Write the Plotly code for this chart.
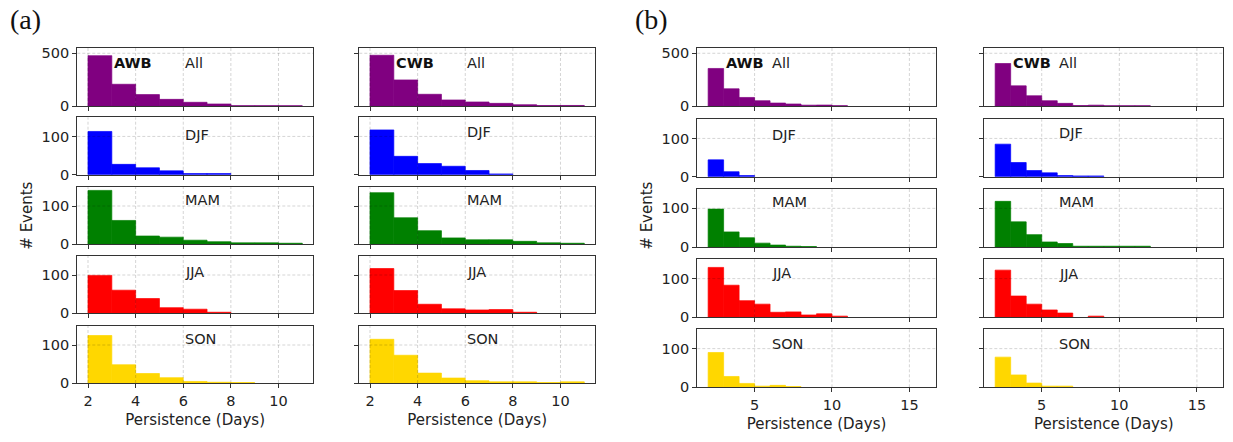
import plotly.graph_objects as go

# Bin left edges (bin width = 1 day)
edges_a = list(range(2, 11))
edges_b = list(range(2, 16))

seasons = ["All", "DJF", "MAM", "JJA", "SON"]
season_colors = ["#800080", "#0000ff", "#008000", "#ff0000", "#ffd700"]

# (a) AWB event counts per persistence bin
a_awb_all = [477, 206, 108, 63, 35, 19, 3, 3, 2]
a_awb_djf = [113, 27, 18, 10, 3, 3, 0, 0, 0]
a_awb_mam = [141, 62, 21, 18, 10, 6, 3, 3, 2]
a_awb_jja = [99, 60, 38, 14, 10, 2, 0, 0, 0]
a_awb_son = [125, 48, 25, 14, 4, 2, 1, 0, 0]

# (a) CWB
a_cwb_all = [481, 247, 111, 57, 38, 25, 12, 4, 5]
a_cwb_djf = [117, 48, 29, 22, 11, 2, 0, 0, 0]
a_cwb_mam = [135, 69, 35, 16, 11, 11, 7, 3, 2]
a_cwb_jja = [117, 59, 23, 11, 8, 9, 2, 0, 0]
a_cwb_son = [115, 73, 26, 13, 6, 3, 3, 1, 3]

# (b) AWB
b_awb_all = [356, 163, 81, 50, 28, 19, 8, 9, 3, 0, 0, 0, 0, 0]
b_awb_djf = [44, 13, 3, 0, 0, 0, 0, 0, 0, 0, 0, 0, 0, 0]
b_awb_mam = [98, 39, 24, 10, 5, 2, 1, 0, 0, 0, 0, 0, 0, 0]
b_awb_jja = [129, 83, 43, 34, 13, 14, 6, 9, 3, 0, 0, 0, 0, 0]
b_awb_son = [90, 28, 10, 3, 5, 2, 0, 0, 0, 0, 0, 0, 0, 0]

# (b) CWB
b_cwb_all = [403, 191, 97, 50, 25, 4, 8, 2, 2, 2, 0, 0, 0, 0]
b_cwb_djf = [85, 37, 16, 10, 3, 2, 2, 0, 0, 0, 0, 0, 0, 0]
b_cwb_mam = [118, 65, 32, 13, 9, 2, 2, 2, 2, 2, 0, 0, 0, 0]
b_cwb_jja = [122, 55, 34, 19, 11, 0, 3, 0, 0, 0, 0, 0, 0, 0]
b_cwb_son = [78, 32, 11, 3, 3, 0, 0, 0, 0, 0, 0, 0, 0, 0]

panels = [
    ("AWB", edges_a, [a_awb_all, a_awb_djf, a_awb_mam, a_awb_jja, a_awb_son]),
    ("CWB", edges_a, [a_cwb_all, a_cwb_djf, a_cwb_mam, a_cwb_jja, a_cwb_son]),
    ("AWB", edges_b, [b_awb_all, b_awb_djf, b_awb_mam, b_awb_jja, b_awb_son]),
    ("CWB", edges_b, [b_cwb_all, b_cwb_djf, b_cwb_mam, b_cwb_jja, b_cwb_son]),
]

W, H = 1233, 442
FONT = "DejaVu Sans"
AX = "#333333"
GRID = "rgba(0,0,0,0.17)"

# pixel layout of the four columns and five rows
col_px = [(77.3, 313.0), (359.3, 595.0), (697.3, 935.7), (984.3, 1223.3)]
rows_a = [(48, 106), (117.3, 174.7), (187, 244), (256, 313), (326, 383)]
rows_b = [(48, 106), (119.3, 176.7), (189, 247), (259.3, 317.3), (329.3, 387.3)]
row_px = [rows_a, rows_a, rows_b, rows_b]
xranges = [[1.55, 11.45], [1.55, 11.45], [1.3, 16.7], [1.3, 16.7]]
xticks = [[2, 4, 6, 8, 10], [2, 4, 6, 8, 10], [5, 10, 15], [5, 10, 15]]
label_frac = [
    [0.74, 0.70, 0.77, 0.725, 0.77],
    [0.74, 0.75, 0.77, 0.725, 0.77],
    [0.74, 0.73, 0.78, 0.76, 0.74],
    [0.74, 0.76, 0.77, 0.74, 0.74],
]

fig = go.Figure()
layout = dict(
    width=W, height=H, margin=dict(l=0, r=0, t=0, b=0, autoexpand=False),
    paper_bgcolor="white", plot_bgcolor="white", showlegend=False,
    font=dict(family=FONT, size=14, color="#222"),
)
annotations = []
shapes = []

for p, (kind, edges, series) in enumerate(panels):
    x0, x1 = col_px[p]
    for r in range(5):
        idx = p * 5 + r + 1
        sfx = "" if idx == 1 else str(idx)
        top, bot = row_px[p][r]
        col = season_colors[r]
        vals = series[r]
        # thin same-colour outline closes the seams between adjacent bins
        outline = [0.7 if v > 0 else 0 for v in vals]
        fig.add_trace(go.Bar(
            x=edges, y=vals, width=1, offset=0,
            marker=dict(color=col, line=dict(width=outline, color=col)),
            xaxis="x" + sfx, yaxis="y" + sfx, hoverinfo="x+y",
        ))
        layout["xaxis" + sfx] = dict(
            domain=[x0 / W, x1 / W], anchor="y" + sfx, range=xranges[p],
            tickmode="array", tickvals=xticks[p], showticklabels=(r == 4),
            ticks="outside", ticklen=4, tickwidth=1, tickcolor=AX,
            showline=True, mirror=True, linecolor=AX, linewidth=1.3,
            showgrid=False, zeroline=False, automargin=False,
            tickfont=dict(size=14.5, color="#222"),
            title=dict(text="Persistence (Days)" if r == 4 else "",
                       font=dict(size=15, color="#222"), standoff=6),
        )
        ymax = 550 if r == 0 else 150
        ytick = [0, 500] if r == 0 else [0, 100]
        layout["yaxis" + sfx] = dict(
            domain=[1 - bot / H, 1 - top / H], anchor="x" + sfx, range=[0, ymax],
            tickmode="array", tickvals=ytick, showticklabels=(p in (0, 2)),
            ticks="outside", ticklen=4, tickwidth=1, tickcolor=AX,
            showline=True, mirror=True, linecolor=AX, linewidth=1.3,
            showgrid=False, zeroline=False, automargin=False,
            tickfont=dict(size=14.5, color="#222"),
        )
        # dashed grid drawn above the bars
        for tv in xticks[p]:
            shapes.append(dict(
                type="line", xref="x" + sfx, yref="y" + sfx + " domain",
                x0=tv, x1=tv, y0=0, y1=1, layer="above",
                line=dict(color=GRID, width=1, dash="3px,2px"),
            ))
        for tv in ytick[1:]:
            shapes.append(dict(
                type="line", xref="x" + sfx + " domain", yref="y" + sfx,
                x0=0, x1=1, y0=tv, y1=tv, layer="above",
                line=dict(color=GRID, width=1, dash="3px,2px"),
            ))
        annotations.append(dict(
            text=seasons[r], x=6, y=label_frac[p][r], xref="x" + sfx,
            yref="y" + sfx + " domain", xanchor="left", yanchor="middle",
            showarrow=False, font=dict(size=14.5, color="#222"),
        ))
        if r == 0:
            annotations.append(dict(
                text="<b>" + kind + "</b>", x=3, y=label_frac[p][0],
                xref="x" + sfx, yref="y" + sfx + " domain",
                xanchor="left", yanchor="middle", showarrow=False,
                font=dict(size=14.5, color="#111"),
            ))

# y-axis titles and panel letters
for xc in (26.7, 646.7):
    annotations.append(dict(
        text="# Events", x=xc / W, y=1 - 216 / H, xref="paper", yref="paper",
        textangle=-90, showarrow=False, xanchor="center", yanchor="middle",
        font=dict(size=15, color="#222"),
    ))
for txt, xl in (("(a)", 8), ("(b)", 633)):
    annotations.append(dict(
        text=txt, x=xl / W, y=1 - 20 / H, xref="paper", yref="paper",
        xanchor="left", yanchor="middle", showarrow=False,
        font=dict(family="Liberation Serif", size=28, color="#111"),
    ))

layout["annotations"] = annotations
layout["shapes"] = shapes
fig.update_layout(**layout)
fig.write_html("out.html")
